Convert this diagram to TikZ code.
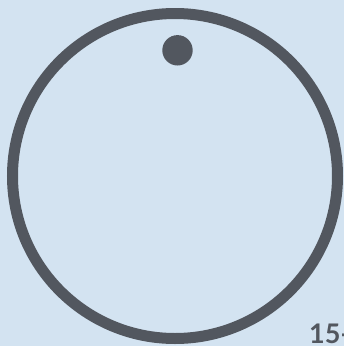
\documentclass[tikz,border=0pt]{standalone}
\usepackage{fontspec}
\setmainfont{Lato}
\definecolor{bg}{HTML}{D3E3F1}
\definecolor{ink}{HTML}{52575F}
\begin{document}
\begin{tikzpicture}[x=1pt,y=-1pt,
  ring/.style={draw=ink,line width=11pt},
  knob/.style={fill=ink},
  lbl/.style={text=ink,font=\fontsize{27}{27}\selectfont\bfseries,anchor=base west,inner sep=0pt}]
\useasboundingbox (0,0) rectangle (344,346);
\clip (0,0) rectangle (344,346);
\fill[bg] (0,0) rectangle (344,346);
\draw[ring] (175,176) circle[radius=162.5];
\fill[knob] (177.5,50.3) circle[radius=15.2];
\node[lbl] (t) at (309,343) {15-};
\end{tikzpicture}
\end{document}
